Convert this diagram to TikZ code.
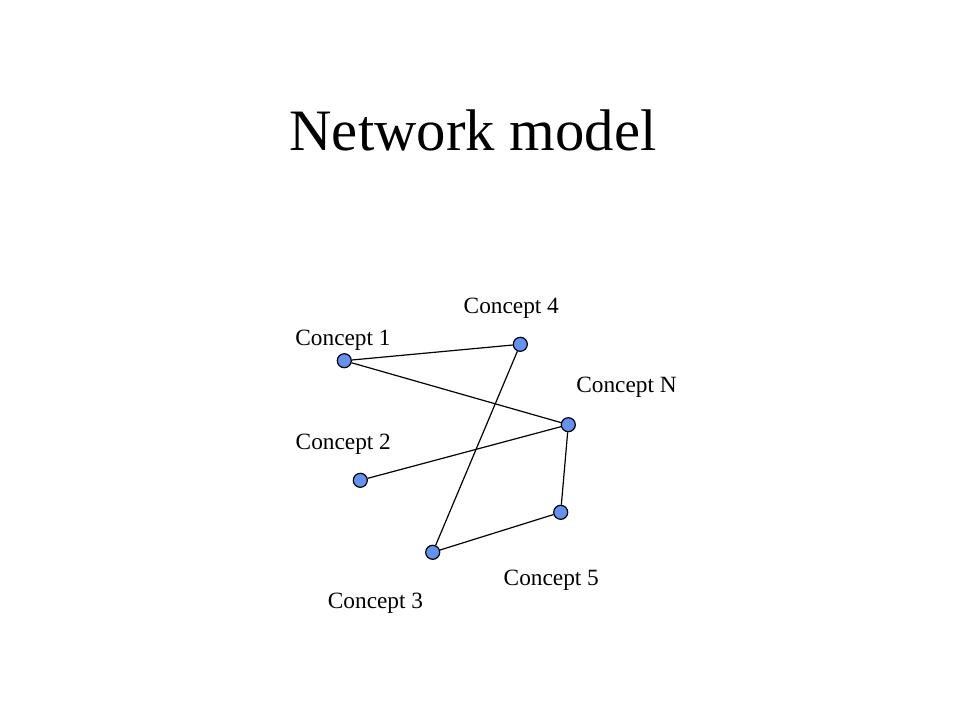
\documentclass[tikz,border=0pt]{standalone}
\usepackage{fontspec}
\setmainfont{Liberation Serif}
\usetikzlibrary{positioning}
\definecolor{conceptblue}{RGB}{100,146,240}
\tikzset{
  concept/.style = {draw, line width=1.2pt, fill=conceptblue, circle,
                    minimum size=14pt, inner sep=0pt},
  label text/.style = {anchor=base, inner sep=0pt,
                       font=\fontsize{23.3pt}{28pt}\selectfont},
  title text/.style = {anchor=base, inner sep=0pt,
                       font=\fontsize{58.7pt}{70pt}\selectfont},
  link/.style = {line width=1.2pt, black},
}
\begin{document}
\begin{tikzpicture}[x=1pt, y=-1pt]
  %% Fix the page to the size of the slide
  \useasboundingbox (0, 0) rectangle (960, 720);

  %% Title
  \node [title text] (title) at (473, 150) {Network model};

  %% The concepts
  \node [concept] (c1) at (344.3, 360.7) {};
  \node [concept] (c4) at (520.3, 344.3) {};
  \node [concept] (cN) at (568.3, 424.7) {};
  \node [concept] (c2) at (360.3, 480.3) {};
  \node [concept] (c5) at (560.7, 512.3) {};
  \node [concept] (c3) at (432.7, 552.3) {};

  %% Their labels
  \node [label text] (c1_label) at (343.0, 345.0) {Concept 1};
  \node [label text] (c4_label) at (511.3, 313.3) {Concept 4};
  \node [label text] (cN_label) at (626.5, 392.7) {Concept N};
  \node [label text] (c2_label) at (343.3, 449.0) {Concept 2};
  \node [label text] (c5_label) at (551.3, 585.0) {Concept 5};
  \node [label text] (c3_label) at (375.5, 608.3) {Concept 3};

  %% Connect the concepts
  \foreach \a/\b in {c1/c4, c1/cN, c4/c3, cN/c2, cN/c5, c5/c3}{%
    \draw [link] (\a) -- (\b);
  }
\end{tikzpicture}
\end{document}
